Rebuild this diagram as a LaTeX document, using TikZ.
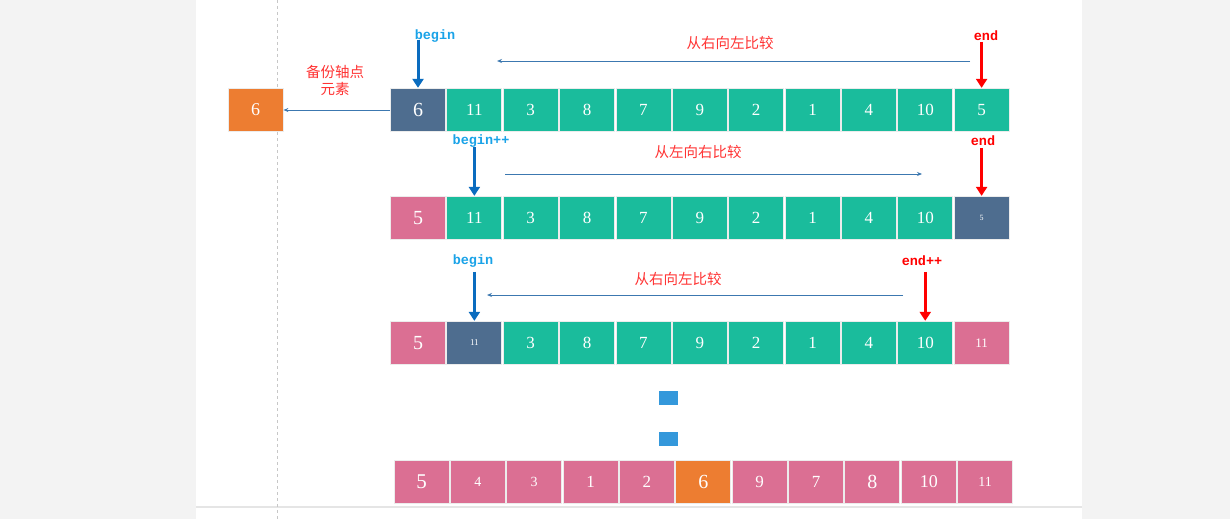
\documentclass[tikz,border=0pt]{standalone}
\usepackage{fontspec}
\setmainfont{Liberation Serif}
\newfontfamily\cjk{Noto Sans CJK SC}
\newfontfamily\mono{Liberation Mono}
\usetikzlibrary{arrows.meta}
\definecolor{teal1}{HTML}{1ABC9C}
\definecolor{slate1}{HTML}{4E6D8F}
\definecolor{pink1}{HTML}{DB6F93}
\definecolor{orange1}{HTML}{ED7D31}
\definecolor{lblblue}{HTML}{1AA3E8}
\definecolor{arrblue}{HTML}{0A6CBF}
\definecolor{thinblue}{HTML}{3C78B0}
\definecolor{sqblue}{HTML}{3498DB}
\definecolor{bggray}{HTML}{F3F3F3}
\definecolor{txtred}{HTML}{FF3333}
\tikzset{
  cell/.style={draw=white!85!gray, line width=0.8pt, minimum width=55pt, minimum height=43.5pt, inner sep=0pt, text=white, font=\fontsize{17}{17}\selectfont},
  tealc/.style={cell, fill=teal1},
  slatec/.style={cell, fill=slate1},
  pinkc/.style={cell, fill=pink1},
  orangec/.style={cell, fill=orange1},
  beginlbl/.style={text=lblblue, font=\mono\bfseries\fontsize{13.5}{13.5}\selectfont, inner sep=1pt},
  endlbl/.style={text=red, font=\mono\bfseries\fontsize{13.5}{13.5}\selectfont, inner sep=1pt},
  cnlbl/.style={text=txtred, font=\cjk\fontsize{14.5}{17}\selectfont, align=center, inner sep=0pt},
  thickblue/.style={draw=arrblue, line width=3pt, -{Triangle[length=9pt,width=11pt]}},
  thickred/.style={draw=red, line width=3pt, -{Triangle[length=9pt,width=11pt]}},
  thinarr/.style={draw=thinblue, line width=1pt, -{Stealth[length=5pt,width=4pt]}},
  sq/.style={fill=sqblue, draw=none, minimum width=19pt, minimum height=14pt, inner sep=0pt}
}
\begin{document}
\begin{tikzpicture}[x=1pt,y=-1pt]
\useasboundingbox (0,0) rectangle (1230,519);
\fill[bggray] (0,0) rectangle (1230,519);
\fill[white] (196,0) rectangle (1082,519);
\draw[draw=black!10, line width=1.2pt] (196,507) -- (1082,507);
\draw[draw=black!22, line width=1pt, dashed] (277,0) -- (277,519);

% Row 1
\foreach \i/\v/\s/\fs in {1/6/slatec/20,2/11/tealc/17,3/3/tealc/17,4/8/tealc/17,5/7/tealc/17,6/9/tealc/17,7/2/tealc/17,8/1/tealc/17,9/4/tealc/17,10/10/tealc/17,11/5/tealc/17}{
  \node[\s, font=\fontsize{\fs}{\fs}\selectfont] (r1c\i) at ({418+56.36*(\i-1)},110) {\v};
}
% Row 2
\foreach \i/\v/\s/\fs in {1/5/pinkc/20,2/11/tealc/17,3/3/tealc/17,4/8/tealc/17,5/7/tealc/17,6/9/tealc/17,7/2/tealc/17,8/1/tealc/17,9/4/tealc/17,10/10/tealc/17,11/5/slatec/8}{
  \node[\s, font=\fontsize{\fs}{\fs}\selectfont] (r2c\i) at ({418+56.36*(\i-1)},218) {\v};
}
% Row 3
\foreach \i/\v/\s/\fs in {1/5/pinkc/20,2/11/slatec/9,3/3/tealc/17,4/8/tealc/17,5/7/tealc/17,6/9/tealc/17,7/2/tealc/17,8/1/tealc/17,9/4/tealc/17,10/10/tealc/17,11/11/pinkc/13}{
  \node[\s, font=\fontsize{\fs}{\fs}\selectfont] (r3c\i) at ({418+56.36*(\i-1)},343) {\v};
}
% Row 4
\foreach \i/\v/\s/\fs in {1/5/pinkc/21,2/4/pinkc/14,3/3/pinkc/14,4/1/pinkc/17,5/2/pinkc/17,6/6/orangec/20,7/9/pinkc/17,8/7/pinkc/17,9/8/pinkc/20,10/10/pinkc/18,11/11/pinkc/14}{
  \node[\s, font=\fontsize{\fs}{\fs}\selectfont] (r4c\i) at ({421.5+56.36*(\i-1)},482) {\v};
}

% backup pivot
\node[orangec, font=\fontsize{18}{18}\selectfont] (backup) at (255.5,110) {6};
\node[cnlbl] (backuplbl) at (335,80) {备份轴点\\元素};
\draw[thinarr] (r1c1.west) -- (backup.east);

% Row 1 markers
\node[beginlbl] (b1) at (435,36) {begin};
\node[endlbl] (e1) at (986,36) {end};
\coordinate (b1s) at ([yshift=48pt]r1c1.north);
\coordinate (e1s) at ([yshift=46pt]r1c11.north);
\draw[thickblue] (b1s) -- (r1c1.north);
\draw[thickred] (e1s) -- (r1c11.north);
\node[cnlbl] (t1) at (730,43) {从右向左比较};
\coordinate (a1s) at (970,61);
\coordinate (a1e) at (497,61);
\draw[thinarr] (a1s) -- (a1e);

% Row 2 markers
\node[beginlbl] (b2) at (481,141) {begin++};
\node[endlbl] (e2) at (983,141) {end};
\coordinate (b2s) at ([yshift=49pt]r2c2.north);
\coordinate (e2s) at ([yshift=48pt]r2c11.north);
\draw[thickblue] (b2s) -- (r2c2.north);
\draw[thickred] (e2s) -- (r2c11.north);
\node[cnlbl] (t2) at (698,152) {从左向右比较};
\coordinate (a2s) at (505,174);
\coordinate (a2e) at (922,174);
\draw[thinarr] (a2s) -- (a2e);

% Row 3 markers
\node[beginlbl] (b3) at (473,261) {begin};
\node[endlbl] (e3) at (922,261) {end++};
\coordinate (b3s) at ([yshift=49pt]r3c2.north);
\coordinate (e3s) at ([yshift=49pt]r3c10.north);
\draw[thickblue] (b3s) -- (r3c2.north);
\draw[thickred] (e3s) -- (r3c10.north);
\node[cnlbl] (t3) at (678,279) {从右向左比较};
\coordinate (a3s) at (903,295);
\coordinate (a3e) at (487,295);
\draw[thinarr] (a3s) -- (a3e);

% dots
\node[sq] (d1) at (668.5,398) {};
\node[sq] (d2) at (668.5,439) {};
\end{tikzpicture}
\end{document}
